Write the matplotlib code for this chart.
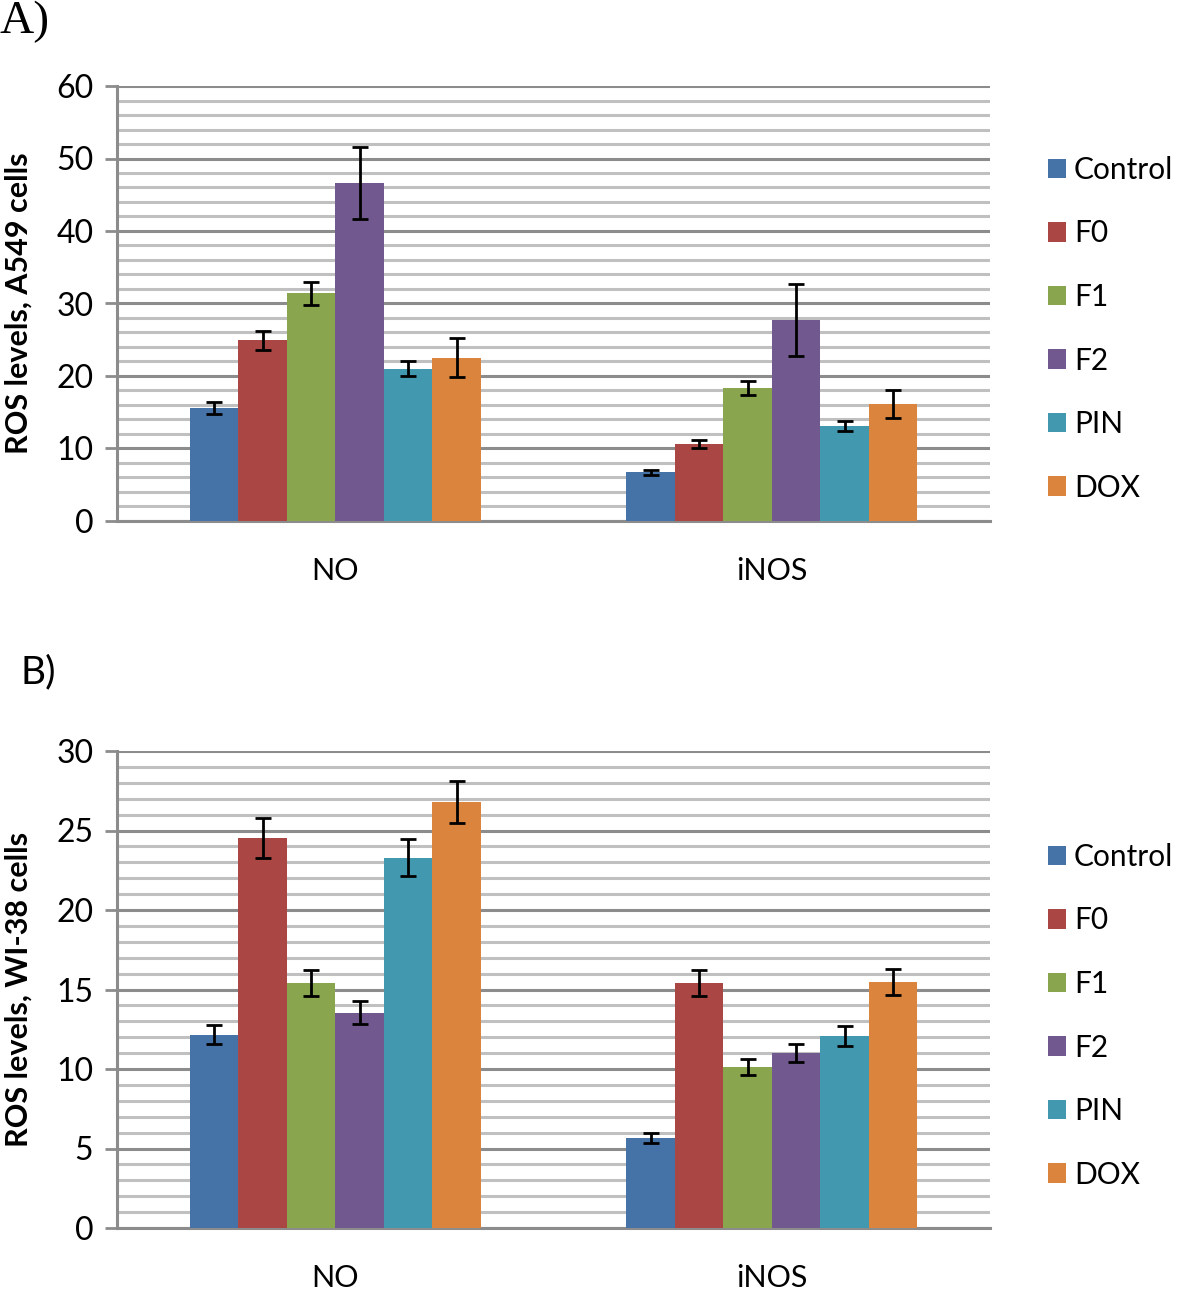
import matplotlib
matplotlib.use("Agg")
import matplotlib.pyplot as plt
import numpy as np
from matplotlib.patches import Patch

categories = ["NO", "iNOS"]
series = ["Control", "F0", "F1", "F2", "PIN", "DOX"]
colors = ["#4572A7", "#AA4643", "#89A54E", "#71588F", "#4198AF", "#DB843D"]

# Panel A: A549 cells  (rows = series, cols = categories)
a_vals = [[15.6, 6.7], [24.9, 10.6], [31.4, 18.3], [46.6, 27.7], [21.0, 13.1], [22.5, 16.1]]
a_errs = [[0.8, 0.4], [1.25, 0.6], [1.6, 0.95], [5.0, 5.0], [1.0, 0.65], [2.7, 1.95]]
# Panel B: WI-38 cells
b_vals = [[12.15, 5.67], [24.55, 15.4], [15.4, 10.1], [13.55, 11.0], [23.3, 12.06], [26.8, 15.46]]
b_errs = [[0.6, 0.3], [1.25, 0.8], [0.8, 0.5], [0.7, 0.55], [1.15, 0.63], [1.3, 0.8]]

a_yticks = [0, 10, 20, 30, 40, 50, 60]
b_yticks = [0, 5, 10, 15, 20, 25, 30]

plt.rcParams['font.family'] = ['Lato', 'DejaVu Sans']

fig = plt.figure(figsize=(11.81, 12.95), dpi=100)
W, H = 1181, 1295

def panel(rect, vals, errs, yticks, minor_step, ylabel, legend_top):
    ax = fig.add_axes(rect)
    n = len(series)
    w = (2 / 3) / n
    x = np.arange(len(categories))
    for i, s in enumerate(series):
        pos = x - 1 / 3 + w * (i + 0.5)
        ax.bar(pos, vals[i], width=w, color=colors[i], edgecolor='none', zorder=3)
        ax.errorbar(pos, vals[i], yerr=errs[i], fmt='none', ecolor='black',
                    elinewidth=2, capsize=6, capthick=2, zorder=4)
    ax.set_xlim(-0.5, len(categories) - 0.5)
    ax.set_ylim(yticks[0], yticks[-1])
    ax.set_yticks(yticks)
    ax.set_yticks(np.arange(yticks[0], yticks[-1] + 1e-9, minor_step), minor=True)
    ax.yaxis.grid(True, which='minor', color='#c0c0c0', linewidth=2.2, zorder=0)
    ax.yaxis.grid(True, which='major', color='#8c8c8c', linewidth=2.2, zorder=1)
    ax.set_xticks(x)
    ax.set_xticklabels(categories, fontsize=22)
    ax.tick_params(axis='x', length=0, pad=26)
    ax.tick_params(axis='y', which='major', length=9, width=2, color='#8c8c8c',
                   labelsize=23, pad=8)
    ax.tick_params(axis='y', which='minor', length=0)
    for sp in ['top', 'right']:
        ax.spines[sp].set_visible(False)
    for sp in ['left', 'bottom']:
        ax.spines[sp].set_color('#8c8c8c')
        ax.spines[sp].set_linewidth(2.2)
    ax.set_ylabel(ylabel, fontsize=22, fontweight='bold')
    ax.yaxis.set_label_coords(-(117 - 33) / (rect[2] * W), 0.5)
    handles = [Patch(facecolor=c, edgecolor='none') for c in colors]
    ax.legend(handles, series, loc='upper left',
              bbox_to_anchor=(1036 / W, legend_top), bbox_transform=fig.transFigure,
              frameon=False, fontsize=21.5, handlelength=0.62, handleheight=0.62,
              handletextpad=0.25, labelspacing=1.19, borderaxespad=0)
    return ax

left = 117 / W
width = (990 - 117) / W
panel([left, 1 - 521 / H, width, (521 - 86) / H], a_vals, a_errs, a_yticks, 2,
      "ROS levels, A549 cells", 1 - 144 / H)
panel([left, 1 - 1228 / H, width, (1228 - 751) / H], b_vals, b_errs, b_yticks, 1,
      "ROS levels, WI-38 cells", 1 - 831 / H)

fig.text(0 / W, 1 - 22 / H, "A)", fontsize=34, family='Liberation Serif', va='center', ha='left')
fig.text(21 / W, 1 - 672 / H, "B)", fontsize=28, va='center', ha='left')

fig.savefig("out.png", dpi=100)
